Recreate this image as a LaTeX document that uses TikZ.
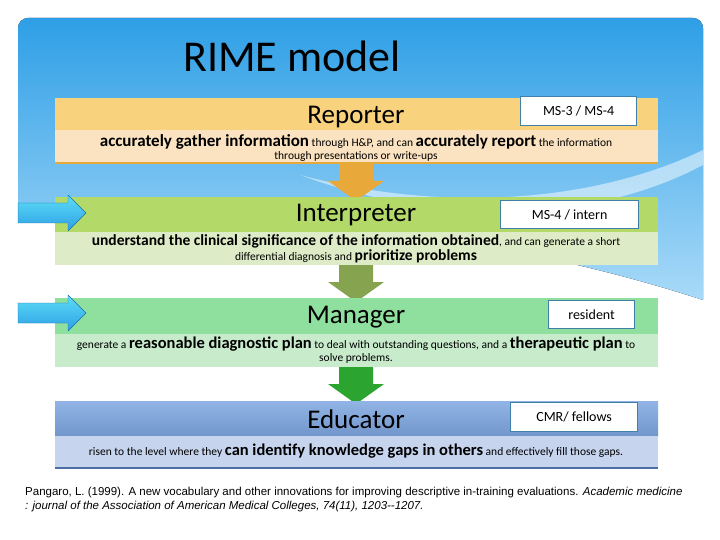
\documentclass[tikz,border=0pt]{standalone}
\usepackage{fontspec}
\setmainfont{Carlito}
\newfontfamily\arialf{Liberation Sans}
\definecolor{skyA}{HTML}{2E9FE6}
\definecolor{skyB}{HTML}{A9DAF8}
\definecolor{repT}{HTML}{F9D27E}
\definecolor{repB}{HTML}{FBE3C1}
\definecolor{repL}{HTML}{E9A93A}
\definecolor{intT}{HTML}{B3DA69}
\definecolor{intB}{HTML}{DDEBC6}
\definecolor{manT}{HTML}{8FDF9F}
\definecolor{manB}{HTML}{C8EBCC}
\definecolor{eduT}{HTML}{7EA7E1}
\definecolor{eduB}{HTML}{C6D4EE}
\definecolor{eduL}{HTML}{4A6FA5}
\definecolor{boxL}{HTML}{3F7FA8}
\tikzset{
 tag/.style={draw=boxL,line width=1.2pt,fill=white,anchor=north west,align=left,font=\fontsize{14}{14}\selectfont,inner xsep=5pt,inner ysep=6pt,text depth=0pt},
 ttl/.style={font=\fontsize{27}{27}\selectfont},
 desc/.style={align=center,font=\fontsize{11.5}{13.5}\selectfont},
 side/.style={top color=cyan!50!skyA!70,bottom color=skyA,draw=skyA!70!black,line width=0.4pt}
}
\newcommand{\dnarrow}[3]{% x, top y, color
 \fill[#3] (#1-17,#2) -- (#1+17,#2) -- (#1+17,#2+17) -- (#1+28,#2+17) -- (#1,#2+37) -- (#1-28,#2+17) -- (#1-17,#2+17) -- cycle;}
\newcommand{\sidearrow}[1]{% center y
 \draw[side] (18,#1-10) -- (68,#1-10) -- (68,#1-18) -- (86,#1) -- (68,#1+18) -- (68,#1+10) -- (18,#1+10) -- cycle;}
\begin{document}
\begin{tikzpicture}[x=1pt,y=-1pt]
\useasboundingbox (0,0) rectangle (720,540);
\fill[white] (0,0) rectangle (720,540);
% sky background
\fill[top color=skyA,bottom color=skyB,rounded corners=10pt] (18,215) -- (18,18) -- (703,18) -- (703,300) [sharp corners] -- (703,300) .. controls (550,250) and (300,200) .. (18,215) -- cycle;
\fill[white,opacity=0.5] (300,175) .. controls (450,215) and (600,200) .. (703,150) -- (703,165) .. controls (600,220) and (450,230) .. (300,175);
\node (title) at (292,56) {\fontsize{44}{44}\selectfont RIME model};
% Reporter
\fill[repT] (55,98) rectangle (658,130);
\fill[repB] (55,130) rectangle (658,162);
\draw[repL,line width=2pt] (55,163) -- (658,163);
\node[ttl] (rep) at (356,117) {Reporter};
\node[tag,minimum width=116pt,minimum height=29pt] (t1) at (520,96) {MS-3 / MS-4};
\node[desc] (d1) at (356,148) {{\fontsize{17}{17}\selectfont\bfseries accurately gather information} through H\&P, and can {\fontsize{17}{17}\selectfont\bfseries accurately report} the information\\through presentations or write-ups};
\dnarrow{356}{164}{repL}
% Interpreter
\fill[intT] (55,197) rectangle (658,232);
\fill[intB] (55,232) rectangle (658,265);
\node[ttl] (int) at (356,215) {Interpreter};
\node[tag,minimum width=138pt,minimum height=28pt] (t2) at (500,200) {MS-4 / intern};
\node[desc] (d2) at (356,249) {{\fontsize{15.5}{15.5}\selectfont\bfseries understand the clinical significance of the information obtained}, and can generate a short\\differential diagnosis and {\fontsize{15.5}{15.5}\selectfont\bfseries prioritize problems}};
\dnarrow{356}{265}{intT!75!black}
% Manager
\fill[manT] (55,298) rectangle (658,334);
\fill[manB] (55,334) rectangle (658,367);
\node[ttl] (man) at (356,317) {Manager};
\node[tag,minimum width=86pt,minimum height=28pt] (t3) at (548,300) {resident};
\node[desc] (d3) at (356,350) {generate a {\fontsize{16.5}{16.5}\selectfont\bfseries reasonable diagnostic plan} to deal with outstanding questions, and a {\fontsize{16.5}{16.5}\selectfont\bfseries therapeutic plan} to\\solve problems.};
\dnarrow{356}{367}{green!55!black!70!manT}
% Educator
\fill[top color=eduT!85,bottom color=eduT!90!black] (55,401) rectangle (658,436);
\fill[eduB] (55,436) rectangle (658,467);
\draw[eduL,line width=1.5pt] (55,468) -- (658,468);
\node[ttl] (edu) at (356,419) {Educator};
\node[tag,minimum width=127pt,minimum height=29pt] (t4) at (510,402) {CMR/ fellows};
\node[desc] (d4) at (356,451) {risen to the level where they {\fontsize{16.5}{16.5}\selectfont\bfseries can identify knowledge gaps in others} and effectively fill those gaps.};
% side arrows
\sidearrow{213}
\sidearrow{313}
% citation
\node[anchor=north west,align=left,font=\arialf\fontsize{11.5}{14}\selectfont,inner sep=0] (cit) at (25,487) {Pangaro, L. (1999). A new vocabulary and other innovations for improving descriptive in-training evaluations. \textit{Academic medicine}\\\textit{: journal of the Association of American Medical Colleges, 74(11), 1203--1207.}};
\end{tikzpicture}
\end{document}
